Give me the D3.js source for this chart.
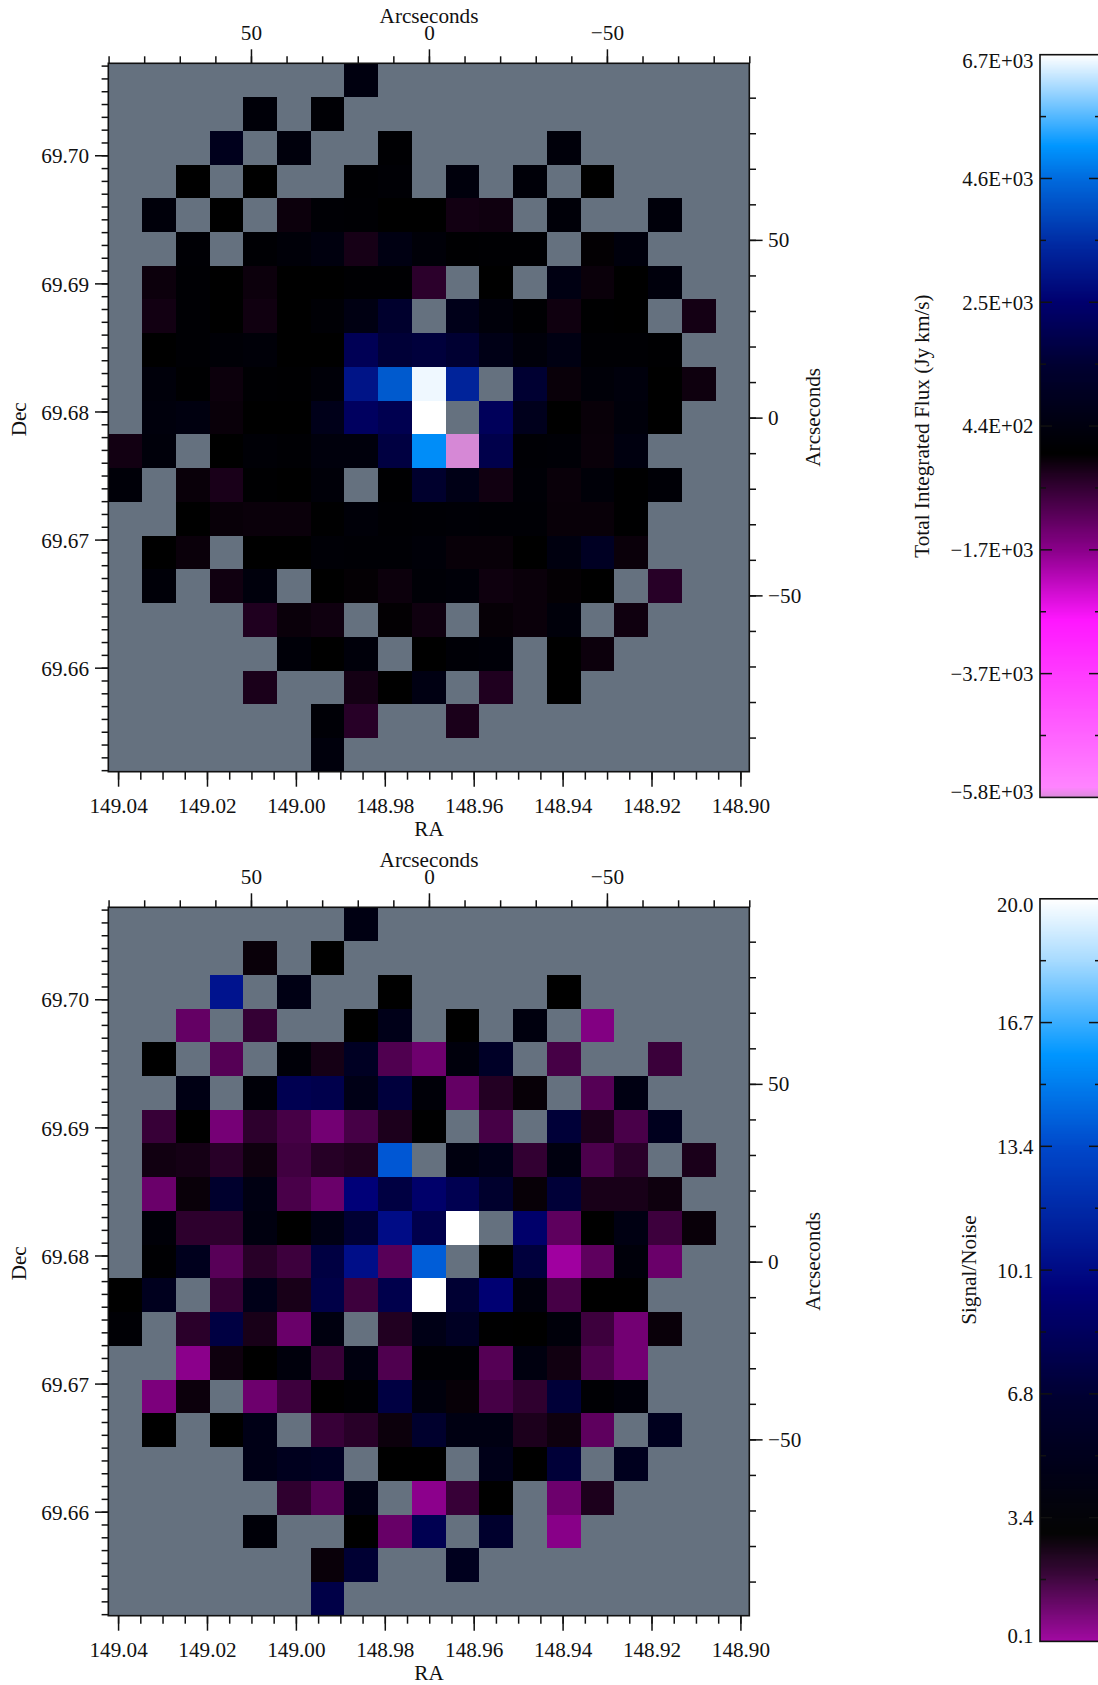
<!DOCTYPE html>
<html>
<head>
<meta charset="utf-8">
<script src="https://cdn.jsdelivr.net/npm/d3@7/dist/d3.min.js"></script>
<style>
html,body{margin:0;padding:0;background:#fff;}
svg{display:block;}
text{font-family:"Liberation Serif","Times New Roman",serif;font-size:21.2px;fill:#111;}
.tick line{stroke:#111;stroke-width:1.5;}
</style>
</head>
<body>
<svg id="chart" width="1098" height="1685"></svg>
<script>
const _ = null;

const fluxRows = [
[_,_,_,_,_,_,_,450,_,_,_,_,_,_,_,_,_,_,_],
[_,_,_,_,240,_,150,_,_,_,_,_,_,_,_,_,_,_,_],
[_,_,_,830,_,360,_,_,90,_,_,_,_,300,_,_,_,_,_],
[_,_,0,_,0,_,_,90,150,_,360,_,240,_,0,_,_,_,_],
[_,300,_,10,_,-130,150,120,0,0,-200,-170,_,240,_,_,300,_,_],
[_,_,150,_,120,240,420,-240,540,240,60,90,90,_,-30,360,_,_,_],
[_,-130,120,0,-130,0,0,90,90,-480,_,0,_,540,-110,0,360,_,_],
[_,-200,120,0,-180,0,150,540,1340,_,750,300,90,-170,30,0,_,-220,_],
[_,0,120,180,240,0,0,2100,1580,1660,1490,660,300,540,120,120,60,_,_],
[_,300,60,-130,90,60,240,3000,4330,6600,3350,_,1490,-100,240,360,0,-160,_],
[_,360,450,-100,0,0,750,2270,2010,6700,_,2180,830,0,-90,300,0,_,_],
[-200,300,_,0,180,120,360,360,1750,5050,-5800,1920,150,180,-100,450,_,_,_],
[240,_,-100,-280,60,0,240,_,60,1340,660,-190,180,-100,240,20,180,_,_],
[_,_,0,-90,-110,-110,30,240,120,150,180,150,150,-90,-90,30,_,_,_],
[_,0,-110,_,0,0,180,150,150,240,-90,-90,0,450,1040,-110,_,_,_],
[_,240,_,-180,360,_,0,-40,-130,180,240,-150,-110,-40,0,_,-430,_,_],
[_,_,_,_,-340,-110,-170,_,-30,-170,_,-70,-110,300,_,-170,_,_,_],
[_,_,_,_,_,240,0,300,_,0,180,240,_,0,-130,_,_,_,_],
[_,_,_,_,-290,_,_,-220,0,540,_,-340,_,0,_,_,_,_,_],
[_,_,_,_,_,_,180,-430,_,_,-290,_,_,_,_,_,_,_,_],
[_,_,_,_,_,_,360,_,_,_,_,_,_,_,_,_,_,_,_]
];

const snrRows = [
[_,_,_,_,_,_,_,4.3,_,_,_,_,_,_,_,_,_,_,_],
[_,_,_,_,2.8,_,3.0,_,_,_,_,_,_,_,_,_,_,_,_],
[_,_,_,10.5,_,4.5,_,_,3.0,_,_,_,_,3.0,_,_,_,_,_],
[_,_,1.1,_,1.9,_,_,3.0,4.8,_,3.0,_,4.0,_,0.6,_,_,_,_],
[_,3.0,_,1.35,_,3.6,2.55,5.6,1.44,0.94,3.9,5.9,_,1.6,_,_,1.8,_,_],
[_,_,4.5,_,3.6,7.9,7.7,4.6,7.1,3.6,1.1,2.25,2.85,_,1.35,4.3,_,_,_],
[_,1.85,3.0,0.8,2.05,1.6,0.85,1.6,2.4,3.1,_,1.6,_,6.9,2.45,1.55,5.2,_,_],
[_,2.65,2.55,2.15,2.7,1.7,2.2,2.35,13.8,_,4.1,4.8,1.95,4.1,1.5,2.1,_,2.45,_],
[_,1.0,2.8,6.3,4.3,1.55,1.0,9.45,7.3,8.9,7.9,6.3,2.85,6.9,2.5,2.5,2.7,_,_],
[_,3.6,2.05,2.05,4.1,3.0,4.5,6.7,10.1,7.7,20,_,8.9,1.2,3.0,4.3,1.75,2.8,_],
[_,3.2,5.1,1.3,2.15,1.75,7.3,10.2,1.3,14,_,3.0,7.1,0.1,1.2,3.7,1.0,_,_],
[3.0,5.2,_,1.9,4.8,2.5,7.5,1.75,7.7,20,6.7,9.2,3.9,1.6,3.0,3.0,_,_,_],
[3.4,_,2.1,7.3,2.5,1.0,4.1,_,2.3,4.6,5.6,3.1,3.0,3.7,1.75,0.85,2.8,_,_],
[_,_,0.45,2.7,3.0,3.9,1.85,4.1,1.45,3.4,3.4,1.35,4.1,2.65,1.45,0.85,_,_,_],
[_,0.7,2.75,_,0.95,1.75,3.0,3.3,7.3,3.9,2.85,1.6,2.0,6.9,3.3,3.7,_,_,_],
[_,3.0,_,3.0,4.6,_,1.85,2.15,2.75,6.3,4.3,4.3,2.4,2.7,1.2,_,5.2,_,_],
[_,_,_,_,4.6,5.2,5.5,_,3.0,3.0,_,4.8,3.0,6.9,_,5.2,_,_,_],
[_,_,_,_,_,2.0,1.35,4.5,_,0.43,1.85,3.0,_,0.95,2.4,_,_,_,_],
[_,_,_,_,3.6,_,_,3.0,1.05,7.9,_,6.3,_,0.5,_,_,_,_,_],
[_,_,_,_,_,_,2.8,6.7,_,_,5.2,_,_,_,_,_,_,_,_],
[_,_,_,_,_,_,7.5,_,_,_,_,_,_,_,_,_,_,_,_]
];

const raTicks = [149.04,149.02,149.00,148.98,148.96,148.94,148.92,148.90];
const raMinor = d3.range(0,29).map(i => 149.04 - i*0.005);
const decTicks = [69.70,69.69,69.68,69.67,69.66];
const decMinor = d3.range(0,56).map(i => 69.652 + i*0.001);
const arcTicks = [50,0,-50];
const arcMinor = d3.range(-90,91,10);

const fluxLabels = ["6.7E+03","4.6E+03","2.5E+03","4.4E+02","\u22121.7E+03","\u22123.7E+03","\u22125.8E+03"];
const snrLabels = ["20.0","16.7","13.4","10.1","6.8","3.4","0.1"];

const fluxStopValues = [-5800,-5620,-2810,-1650,-500,0,1490,2530,3470,4590,5170,6120,6700];
const fluxStopColors = ["#d688d6","#ff80ff","#ff14ff","#8c008c","#2d002d","#000000","#000032","#00006e","#0028a0","#0069dc","#0096ff","#a0d7ff","#ffffff"];
const snrStopValues = [0.1,1.94,3.0,6.68,9.45,13.26,15.83,18.4,20];
const snrStopColors = ["#a000a0","#320032","#000000","#000032","#000078","#0046c8","#0096ff","#aadcff","#ffffff"];

const maskColor = "#65717f";
const font = "21.2px";

const svg = d3.select("#chart");
svg.append("rect").attr("width",1098).attr("height",1685).attr("fill","#fff");

const L = 108.3, R = 749.3, H = 708.4;

function colorScale(vals, cols){
  return d3.scaleLinear().domain(vals).range(cols).interpolate(d3.interpolateRgb).clamp(true);
}

function panel(top, rows, color){
  const g = svg.append("g");
  const B = top + H;
  const ra = d3.scaleLinear().domain([149.0422,148.8980]).range([L,R]);
  const dec = d3.scaleLinear().domain([69.65188,69.70718]).range([B,top]);
  const arcX = d3.scaleLinear().domain([90.08,-90]).range([L,R]);
  const arcY = d3.scaleLinear().domain([-99.6,99.67]).range([B,top]);
  const col = d3.scaleBand().domain(d3.range(19)).range([L,R]);
  const row = d3.scaleBand().domain(d3.range(21)).range([top,B]);

  g.append("rect").attr("x",L).attr("y",top).attr("width",R-L).attr("height",H).attr("fill",maskColor);

  rows.forEach((r,i)=>{
    g.append("g").attr("shape-rendering","crispEdges").selectAll("rect")
      .data(r.map((v,j)=>({v,j})).filter(d=>d.v!=null))
      .join("rect")
      .attr("x",d=>col(d.j)).attr("y",row(i))
      .attr("width",col.bandwidth()).attr("height",row.bandwidth())
      .attr("fill",d=>color(d.v));
  });

  function axis(gen, tx, ty){
    const a = g.append("g").attr("transform",`translate(${tx},${ty})`).call(gen);
    a.select(".domain").remove();
    a.selectAll("text").style("font-size",font).attr("font-family",null).attr("fill",null);
    a.attr("font-family",null).attr("font-size",null);
    return a;
  }
  const fmtArc = d => d<0 ? "\u2212"+(-d) : ""+d;

  axis(d3.axisBottom(ra).tickValues(raMinor).tickSize(8).tickFormat(""),0,B);
  axis(d3.axisBottom(ra).tickValues(raTicks).tickSize(15).tickPadding(10.8).tickFormat(d3.format(".2f")),0,B);
  axis(d3.axisLeft(dec).tickValues(decMinor).tickSize(6.7).tickFormat(""),L,0);
  axis(d3.axisLeft(dec).tickValues(decTicks).tickSize(13.3).tickPadding(6).tickFormat(d3.format(".2f")),L,0)
    .selectAll("text").attr("dy","0.36em");
  axis(d3.axisTop(arcX).tickValues(arcMinor).tickSize(7).tickFormat(""),0,top);
  axis(d3.axisTop(arcX).tickValues(arcTicks).tickSize(14).tickPadding(9).tickFormat(fmtArc),0,top);
  axis(d3.axisRight(arcY).tickValues(arcMinor).tickSize(6.7).tickFormat(""),R,0);
  axis(d3.axisRight(arcY).tickValues(arcTicks).tickSize(13.3).tickPadding(5.5).tickFormat(fmtArc),R,0)
    .selectAll("text").attr("text-anchor","start");

  g.append("rect").attr("x",L).attr("y",top).attr("width",R-L).attr("height",H)
    .attr("fill","none").attr("stroke","#111").attr("stroke-width",1.6);

  g.append("text").attr("x",429).attr("y",top+H+64.3).attr("text-anchor","middle").text("RA");
  g.append("text").attr("x",429).attr("y",top-40.2).attr("text-anchor","middle").text("Arcseconds");
  g.append("text").attr("transform",`translate(25.8,${top+356}) rotate(-90)`).attr("text-anchor","middle").text("Dec");
  g.append("text").attr("transform",`translate(820,${top+354}) rotate(-90)`).attr("text-anchor","middle").text("Arcseconds");
}

function colorbar(top, bottom, lo, hi, color, labels, title, titleX){
  const g = svg.append("g");
  const X0 = 1040, X1 = 1101;
  const y = d3.scaleLinear().domain([lo,hi]).range([bottom,top]);
  const n = Math.round(bottom-top);
  const steps = d3.range(n).map(i => lo + (hi-lo)*(i+0.5)/n);
  const stepH = (bottom-top)/n;
  g.selectAll("rect.s").data(steps).join("rect").attr("class","s")
    .attr("x",X0).attr("width",X1-X0)
    .attr("y",d=>y(d)-stepH/2).attr("height",stepH+0.5)
    .attr("fill",d=>color(d));
  const step = (hi-lo)/(labels.length-1);
  const majors = labels.map((l,i)=>hi-i*step);
  const minors = d3.range(labels.length-1).map(i=>hi-(i+0.5)*step);
  const tick = (vals,len)=>{
    vals.forEach(v=>{
      g.append("line").attr("x1",X0).attr("x2",X0+len).attr("y1",y(v)).attr("y2",y(v)).attr("stroke","#111").attr("stroke-width",1.5);
      g.append("line").attr("x1",X1).attr("x2",X1-len).attr("y1",y(v)).attr("y2",y(v)).attr("stroke","#111").attr("stroke-width",1.5);
    });
  };
  tick(majors.slice(1,-1),12);
  tick(minors,6);
  g.append("rect").attr("x",X0).attr("y",top).attr("width",X1-X0).attr("height",bottom-top)
    .attr("fill","none").attr("stroke","#111").attr("stroke-width",1.6);
  g.selectAll("text.l").data(labels).join("text").attr("class","l")
    .attr("x",1033.5).attr("text-anchor","end").style("font-size","20.8px")
    .attr("y",(d,i)=>y(majors[i]) + 7.4 + (i===0?6:(i===labels.length-1?-6:0)))
    .text(d=>d);
  g.append("text").attr("transform",`translate(${titleX},${(top+bottom)/2}) rotate(-90)`)
    .attr("text-anchor","middle").text(title);
}

panel(63.3, fluxRows, colorScale(fluxStopValues,fluxStopColors));
panel(907.3, snrRows, colorScale(snrStopValues,snrStopColors));
colorbar(54.7,797.4,-5800,6700,colorScale(fluxStopValues,fluxStopColors),fluxLabels,"Total Integrated Flux (Jy km/s)",929);
colorbar(898.8,1641.4,0.1,20,colorScale(snrStopValues,snrStopColors),snrLabels,"Signal/Noise",976);
</script>
</body>
</html>
